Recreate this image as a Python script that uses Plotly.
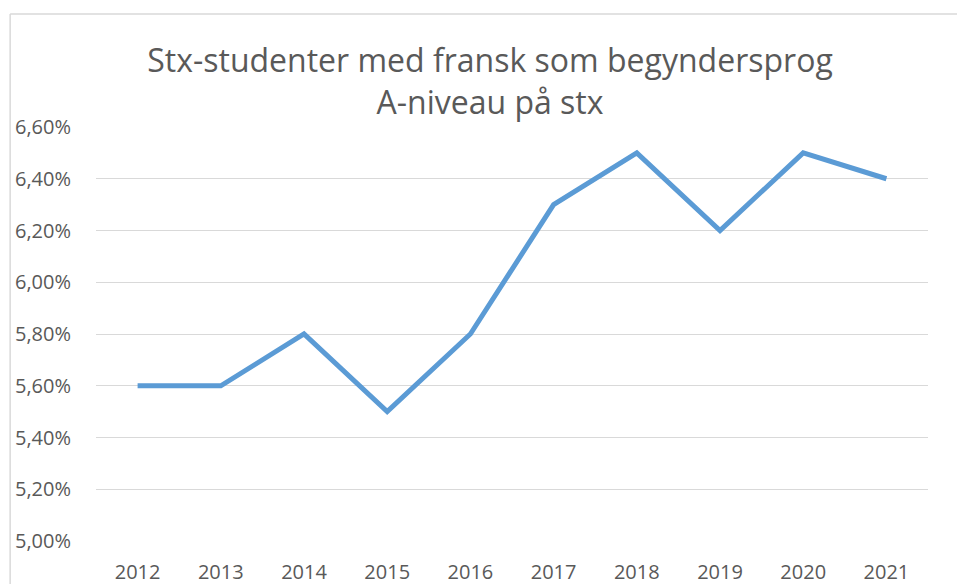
import plotly.graph_objects as go

years = ["2012", "2013", "2014", "2015", "2016", "2017", "2018", "2019", "2020", "2021"]
share = [0.056, 0.056, 0.058, 0.055, 0.058, 0.063, 0.065, 0.062, 0.065, 0.064]
y_ticks = [0.050, 0.052, 0.054, 0.056, 0.058, 0.060, 0.062, 0.064, 0.066]

grey = "#595959"

fig = go.Figure()
fig.add_trace(go.Scatter(x=years, y=share, mode="lines",
                         line=dict(color="#5b9bd5", width=5)))

fig.update_layout(
    width=957, height=584,
    margin=dict(l=96, r=29, t=127, b=43),
    paper_bgcolor="white", plot_bgcolor="white",
    separators=",.",
    showlegend=False,
    font=dict(family="Open Sans", size=20, color=grey),
    title=dict(text="Stx-studenter med fransk som begyndersprog<br>A-niveau på stx",
               x=490 / 957, xanchor="center", y=1 - 72 / 584, yanchor="middle",
               font=dict(size=32, color=grey)),
    # chart frame: only the top and left edges fall inside the window
    shapes=[
        dict(type="line", xref="paper", yref="paper",
             x0=-0.1032, x1=1.5, y0=1.273, y1=1.273,
             line=dict(color="#d9d9d9", width=1.5)),
        dict(type="line", xref="paper", yref="paper",
             x0=-0.1032, x1=-0.1032, y0=-0.5, y1=1.273,
             line=dict(color="#d9d9d9", width=1.5)),
    ],
)
fig.update_xaxes(type="category", showgrid=False, showline=False, zeroline=False,
                 ticks="outside", ticklen=13, tickcolor="white",
                 range=[-0.5, 9.5], automargin=False)
fig.update_yaxes(range=[0.05, 0.066], tickvals=y_ticks, tickformat=".2%",
                 showgrid=True, gridcolor="#d9d9d9", gridwidth=1.2,
                 zeroline=False, showline=False,
                 ticks="outside", ticklen=20, tickcolor="white",
                 automargin=False)

# drop the default page margin so the figure fills the window exactly
fig.write_html("out.html", config={"displayModeBar": False},
               post_script="document.body.style.margin='0';document.body.style.overflow='hidden';")
